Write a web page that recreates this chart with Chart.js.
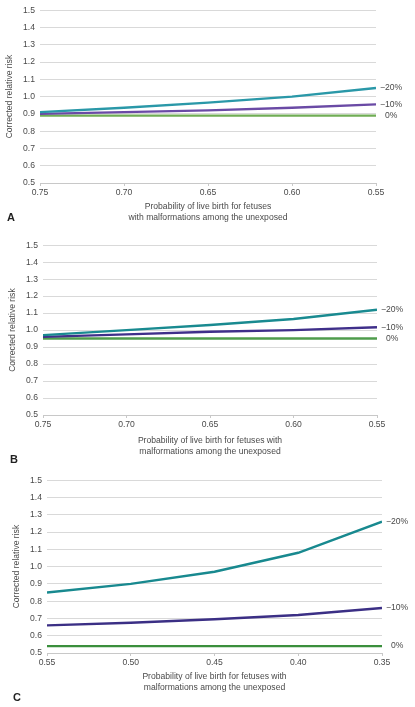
<!DOCTYPE html>
<html>
<head>
<meta charset="utf-8">
<script src="https://cdn.jsdelivr.net/npm/chart.js@4.4.0/dist/chart.umd.min.js"></script>
<style>
  html, body { margin: 0; padding: 0; background: #fff; }
  #wrap { position: relative; width: 415px; height: 707px; }
  .panel { position: absolute; left: 0; width: 415px; }
</style>
</head>
<body>
<div id="wrap">
  <div class="panel" style="top:0;height:235px"><canvas id="chartA"></canvas></div>
  <div class="panel" style="top:235px;height:235px"><canvas id="chartB"></canvas></div>
  <div class="panel" style="top:470px;height:237px"><canvas id="chartC"></canvas></div>
</div>
<script>
// ── Data ─────────────────────────────────────────────────────────────────────
const xA = [0.75, 0.70, 0.65, 0.60, 0.55];
const a20 = [0.91, 0.935, 0.965, 1.00, 1.05];
const a10 = [0.90, 0.91, 0.92, 0.935, 0.955];
const a0 = [0.89, 0.89, 0.89, 0.89, 0.89];

const xB = [0.75, 0.70, 0.65, 0.60, 0.55];
const b20 = [0.97, 1.00, 1.03, 1.065, 1.12];
const b10 = [0.96, 0.975, 0.99, 1.00, 1.017];
const b0 = [0.95, 0.95, 0.95, 0.95, 0.95];

const xC = [0.55, 0.50, 0.45, 0.40, 0.35];
const c20 = [0.85, 0.90, 0.97, 1.08, 1.26];
const c10 = [0.66, 0.675, 0.695, 0.72, 0.76];
const c0 = [0.54, 0.54, 0.54, 0.54, 0.54];

const seriesLabels = ['\u221220%', '\u221210%', '0%'];
const yTicks = [0.5, 0.6, 0.7, 0.8, 0.9, 1.0, 1.1, 1.2, 1.3, 1.4, 1.5];

const FONT = 'Liberation Sans, Arial, Helvetica, sans-serif';
const TEXT = '#4a4a4a';
const GRID = '#d9d9d9';
const FS = 8.6;

// ── Panel builder ────────────────────────────────────────────────────────────

function makePanel(id, opt) {
    const ctx = document.getElementById(id);
    const pts = (xs, ys) => xs.map((x, i) => ({ x, y: ys[i] }));

    const endLabels = {
        id: 'endLabels',
        afterDraw(chart) {
            const c = chart.ctx;
            c.save();
            c.font = FS + 'px ' + FONT;
            c.fillStyle = TEXT;
            c.textBaseline = 'middle';
            c.textAlign = 'left';
            const minusW = c.measureText('\u2212').width;
            chart.data.datasets.forEach((ds, i) => {
                const meta = chart.getDatasetMeta(i);
                const p = meta.data[meta.data.length - 1];
                const lbl = ds.label;
                const dx = lbl.startsWith('\u2212') ? 0 : minusW;
                c.fillText(lbl, p.x + 4 + dx, p.y);
            });
            c.font = 'bold 11px ' + FONT;
            c.fillStyle = '#222';
            c.fillText(opt.letter, opt.letterX, opt.letterY);
            c.restore();
        }
    };

    return new Chart(ctx, {
        type: 'line',
        data: {
            datasets: [
                { label: seriesLabels[0], data: pts(opt.x, opt.s20), borderColor: opt.colors[0] },
                { label: seriesLabels[1], data: pts(opt.x, opt.s10), borderColor: opt.colors[1] },
                { label: seriesLabels[2], data: pts(opt.x, opt.s0), borderColor: opt.colors[2] }
            ].map(d => ({ ...d, borderWidth: 2.4, pointRadius: 0, tension: 0, fill: false }))
        },
        options: {
            responsive: true,
            maintainAspectRatio: false,
            animation: false,
            layout: { padding: { top: opt.top, right: opt.right, left: 0, bottom: 0 } },
            plugins: { legend: { display: false }, tooltip: { enabled: false } },
            scales: {
                x: {
                    type: 'linear',
                    reverse: true,
                    min: Math.min(...opt.x),
                    max: Math.max(...opt.x),
                    afterBuildTicks: s => { s.ticks = opt.x.map(v => ({ value: v })); },
                    afterFit: s => { s.height = opt.xHeight; },
                    grid: { drawOnChartArea: false, drawTicks: true, tickLength: 3, color: '#c8c8c8' },
                    border: { display: true, color: '#c8c8c8' },
                    ticks: {
                        color: TEXT, font: { family: FONT, size: FS }, padding: 1,
                        maxRotation: 0, autoSkip: false,
                        callback: v => v.toFixed(2)
                    },
                    title: {
                        display: true,
                        text: opt.xTitle,
                        color: TEXT,
                        font: { family: FONT, size: FS, lineHeight: 1.25 },
                        padding: { top: 0, bottom: opt.titlePad }
                    }
                },
                y: {
                    min: 0.5,
                    max: 1.5,
                    afterBuildTicks: s => { s.ticks = yTicks.map(v => ({ value: v })); },
                    afterFit: s => { s.width = opt.left; },
                    grid: { color: GRID, drawTicks: false },
                    border: { display: false },
                    ticks: {
                        color: TEXT, font: { family: FONT, size: FS }, padding: 5,
                        callback: v => v.toFixed(1)
                    },
                    title: {
                        display: true,
                        text: 'Corrected relative risk',
                        color: TEXT,
                        font: { family: FONT, size: FS },
                        padding: { top: opt.yTitlePad, bottom: 0 }
                    }
                }
            }
        },
        plugins: [endLabels]
    });
}

makePanel('chartA', {
    x: xA, s20: a20, s10: a10, s0: a0,
    colors: ['#2a98a8', '#6a4aa5', '#70ad55'],
    top: 9, right: 39, left: 40, xHeight: 52, titlePad: 12,
    yTitlePad: 4,
    xTitle: ['Probability of live birth for fetuses', 'with malformations among the unexposed'],
    letter: 'A', letterX: 7, letterY: 218
});

makePanel('chartB', {
    x: xB, s20: b20, s10: b10, s0: b0,
    colors: ['#198a90', '#3f2f8a', '#4f9c4c'],
    top: 7, right: 38, left: 43, xHeight: 55, titlePad: 13,
    yTitlePad: 7,
    xTitle: ['Probability of live birth for fetuses with', 'malformations among the unexposed'],
    letter: 'B', letterX: 10, letterY: 225
});

makePanel('chartC', {
    x: xC, s20: c20, s10: c10, s0: c0,
    colors: ['#18898f', '#3b2f85', '#3a8f3c'],
    top: 8, right: 33, left: 47, xHeight: 54, titlePad: 14,
    yTitlePad: 11,
    xTitle: ['Probability of live birth for fetuses with', 'malformations among the unexposed'],
    letter: 'C', letterX: 13, letterY: 228
});
</script>
</body>
</html>
